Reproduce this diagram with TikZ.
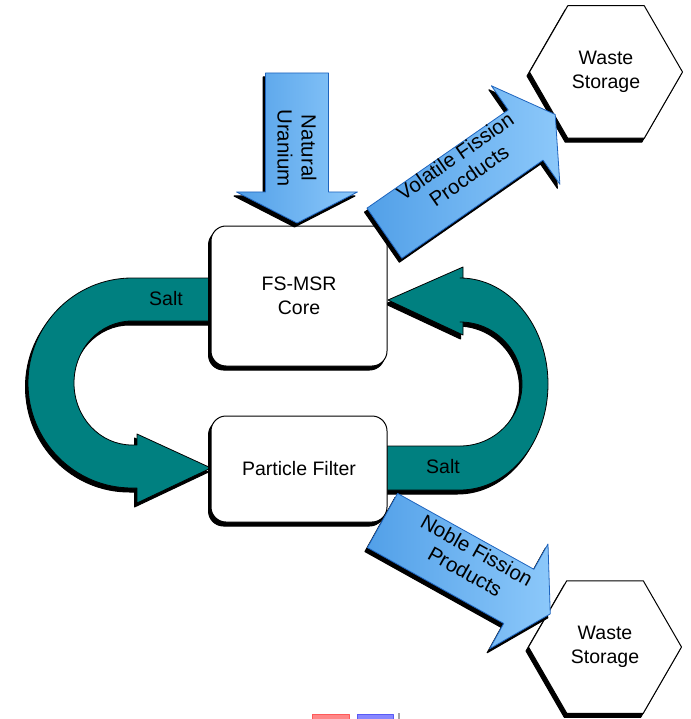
\documentclass[tikz,border=0pt]{standalone}
\usepackage{fontspec}
\setmainfont{Liberation Sans}
\usetikzlibrary{shapes.geometric}
\definecolor{tealc}{RGB}{0,128,128}
\definecolor{blueL}{RGB}{82,160,232}
\definecolor{blueR}{RGB}{140,200,250}
\definecolor{blueO}{RGB}{30,100,190}
\newcommand{\lbl}{\fontsize{19.5}{23.5}\selectfont}
\newcommand{\arrlbl}{\fontsize{20.5}{24}\selectfont}
\begin{document}
\begin{tikzpicture}[x=1pt,y=-1pt,line join=round]
\tikzset{
  blkshadow/.style={preaction={draw=black,fill=black,line width=1pt,transform canvas={xshift=-2.5pt,yshift=-4pt}}},
  tealband/.style={blkshadow,fill=tealc,draw=black,line width=0.8pt},
  bluearrow/.style={blkshadow,left color=blueL,right color=blueR,draw=blueO,line width=0.8pt},
  procbox/.style={blkshadow,draw=black,line width=1pt,fill=white,rounded corners=15pt,
    minimum width=176pt,font=\lbl,align=center,inner sep=0pt},
  hexbox/.style={blkshadow,regular polygon,regular polygon sides=6,draw=black,line width=1pt,
    fill=white,minimum size=153pt,inner sep=0pt,font=\lbl,align=center},
  txt/.style={font=\lbl,align=center,inner sep=0pt},
  arrtxt/.style={font=\arrlbl,align=center,inner sep=0pt},
}
\useasboundingbox (0,0) rectangle (690,719);
\fill[white] (0,0) rectangle (690,719);

% teal salt loops
\draw[tealband] (211,278) -- (132,278)
  arc[start angle=270,end angle=90,x radius=104,y radius=105]
  -- (137,488) -- (137,503) -- (211,468) -- (137,434) -- (137,445) -- (132,445)
  arc[start angle=90,end angle=270,x radius=58,y radius=62]
  -- (211,321) -- cycle;
\draw[tealband] (387,490) -- (460,490)
  arc[start angle=90,end angle=-90,x radius=88,y radius=106]
  -- (463,278) -- (463,267) -- (388,300) -- (463,335) -- (463,322) -- (460,322)
  arc[start angle=-90,end angle=90,x radius=62,y radius=62]
  -- (387,446) -- cycle;
\node[txt] (salt1) at (166,299) {Salt};
\node[txt] (salt2) at (443,467) {Salt};

% process boxes
\node[procbox,minimum height=140pt] (core) at (299,296) {FS-MSR\\Core};
\node[procbox,minimum height=106pt] (filter) at (299,469) {Particle Filter};

% waste storage hexagons
\node[hexbox] (waste1) at (606,72) {Waste\\Storage};
\node[hexbox] (waste2) at (605,647) {Waste\\Storage};

% blue block arrows
\begin{scope}[shift={(297,73)},rotate=-90]
  \draw[bluearrow] (0,-31.5) -- (119,-31.5) -- (119,-60.5) -- (150,0) -- (119,60.5) -- (119,31.5) -- (0,31.5) -- cycle;
\end{scope}
\begin{scope}[shift={(384.4,233.2)},rotate=34.8]
  \draw[bluearrow] (0,-30.5) -- (172,-30.5) -- (172,-60) -- (208,0) -- (172,60) -- (172,30.5) -- (0,30.5) -- cycle;
\end{scope}
\begin{scope}[shift={(382.5,520.5)},rotate=-29.1]
  \draw[bluearrow] (0,-31) -- (156,-31) -- (156,-60) -- (192,0) -- (156,60) -- (156,31) -- (0,31) -- cycle;
\end{scope}
\node[arrtxt,rotate=-90] (uran) at (297,148) {Natural\\Uranium};
\node[arrtxt,rotate=34.8] (vol) at (462,166) {Volatile Fission\\Procducts};
\node[arrtxt,rotate=-29.1] (nob) at (471,561) {Noble Fission\\Products};

% small marks at the bottom edge
\draw[draw={rgb,255:red,255;green,90;blue,90},fill={rgb,255:red,255;green,135;blue,135},line width=1pt] (312,714) rectangle (349,720);
\draw[draw={rgb,255:red,90;green,90;blue,245},fill={rgb,255:red,135;green,135;blue,255},line width=1pt] (357,714) rectangle (393,720);
\fill[gray!70] (397.5,713) rectangle (399.5,719);
\end{tikzpicture}
\end{document}
